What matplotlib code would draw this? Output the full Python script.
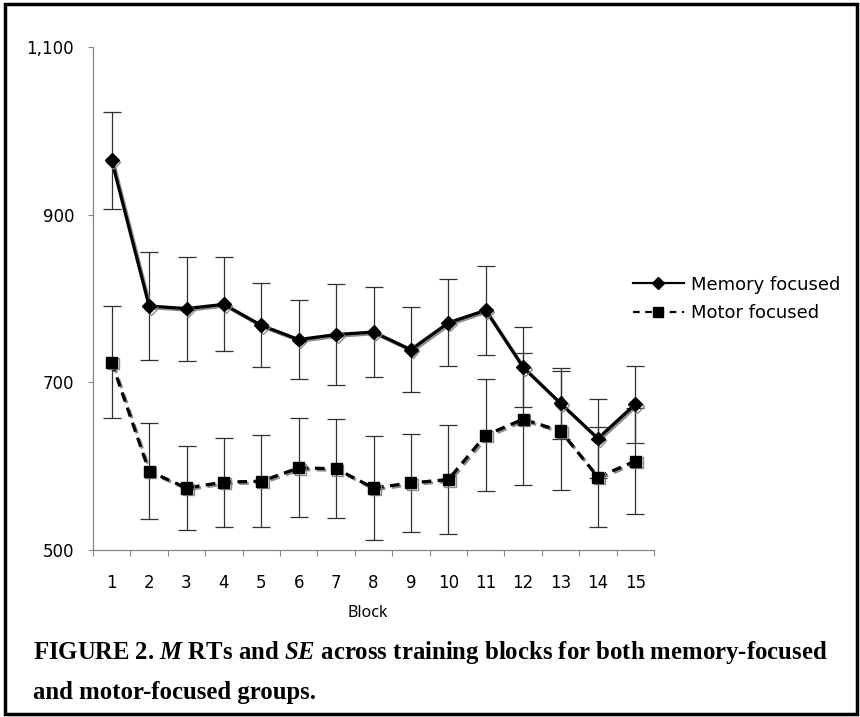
import matplotlib.pyplot as plt
import matplotlib.patheffects as pe
from matplotlib.lines import Line2D
from matplotlib.patches import Rectangle
from matplotlib.ticker import FuncFormatter

# data
blocks = list(range(1, 16))
memory_mean = [965, 791, 788, 793, 768, 751, 757, 760, 739, 771, 786, 718, 675, 633, 674]
memory_se = [58, 64, 62, 56, 50, 47, 60, 54, 51, 52, 53, 48, 42, 47, 46]
motor_mean = [724, 594, 574, 581, 582, 598, 597, 574, 580, 584, 637, 656, 642, 587, 606]
motor_se = [67, 57, 50, 53, 55, 59, 59, 62, 58, 65, 67, 79, 71, 60, 63]
labels = ["Memory focused", "Motor focused"]
yticks = [500, 700, 900, 1100]

plt.rcParams['mathtext.fontset'] = 'custom'
plt.rcParams['mathtext.it'] = 'Liberation Serif:italic:bold'
plt.rcParams['mathtext.rm'] = 'Liberation Serif:bold'

W, H = 860, 717
fig = plt.figure(figsize=(W / 100, H / 100), dpi=100)
ax = fig.add_axes([93 / W, 1 - 550 / H, (654 - 93) / W, (550 - 47) / H])

# error bars
ax.errorbar(blocks, memory_mean, yerr=memory_se, fmt='none', ecolor='#303030',
            elinewidth=0.9, capsize=6.5, capthick=0.9, zorder=2)
ax.errorbar(blocks, motor_mean, yerr=motor_se, fmt='none', ecolor='#303030',
            elinewidth=0.9, capsize=6.5, capthick=0.9, zorder=2)

# lines with a grey drop shadow, Excel style
shadow = [pe.SimpleLineShadow(offset=(1.2, -1.2), shadow_color='#808080', alpha=0.9),
          pe.Normal()]
ax.plot(blocks, memory_mean, color='black', lw=2.3, marker='D', ms=7,
        path_effects=shadow, zorder=4)
ax.plot(blocks, motor_mean, color='black', lw=2.3, ls=(0, (3, 2)), marker='s', ms=8,
        path_effects=shadow, zorder=3)

# axes
ax.set_xlim(0.5, 15.5)
ax.set_ylim(500, 1100)
ax.set_yticks(yticks)
ax.yaxis.set_major_formatter(FuncFormatter(lambda v, p: f'{int(v):,}'))
ax.set_xticks(blocks)
ax.set_xticks([b - 0.5 for b in blocks] + [15.5], minor=True)
ax.tick_params(axis='x', which='major', length=0, pad=17, labelsize=12)
ax.tick_params(axis='x', which='minor', length=4.5, width=0.8, color='#868686')
ax.tick_params(axis='y', length=3.5, width=0.8, color='#868686', pad=10, labelsize=12)
for s in ['top', 'right']:
    ax.spines[s].set_visible(False)
for s in ['left', 'bottom']:
    ax.spines[s].set_color('#868686')
    ax.spines[s].set_linewidth(0.9)

fig.text(368 / W, 1 - 613 / H, 'Block', ha='center', va='center',
         family='Noto Sans', fontsize=11.5)

# legend
handles = [
    Line2D([], [], color='black', lw=1.6, marker='D', ms=6),
    Line2D([], [], color='black', lw=1.6, ls=(0, (3, 2.5)), marker='s', ms=6.5),
]
fig.legend(handles, labels, loc='center left', bbox_to_anchor=(633 / W, 1 - 299 / H),
           frameon=False, fontsize=13, handlelength=2.8, handletextpad=0.4,
           labelspacing=0.6, borderpad=0, borderaxespad=0)

# caption, scaled to the width of the first line
t1 = fig.text(33 / W, 1 - 652 / H,
              'FIGURE 2. $M$ RTs and $SE$ across training blocks for both memory-focused',
              family='Liberation Serif', weight='bold', fontsize=18, va='center')
t2 = fig.text(33 / W, 1 - 692 / H, 'and motor-focused groups.',
              family='Liberation Serif', weight='bold', fontsize=18, va='center')
fig.canvas.draw()
w = t1.get_window_extent(fig.canvas.get_renderer()).width
fs = 18 * 797 / w
t1.set_fontsize(fs)
t2.set_fontsize(fs)

# frame round the whole figure
fig.patches.append(Rectangle((5 / W, 1 - 714 / H), 852 / W, 710 / H, fill=False,
                             lw=2.5, edgecolor='black', transform=fig.transFigure))

fig.savefig('out.png', dpi=100)
